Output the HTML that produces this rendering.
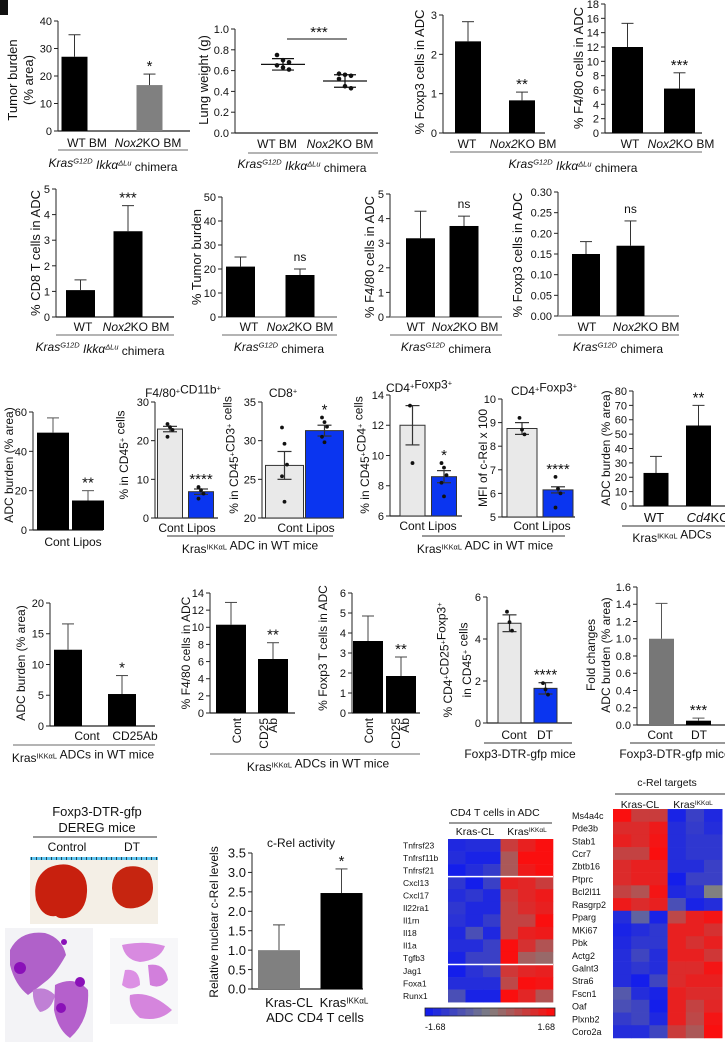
<!DOCTYPE html>
<html><head><meta charset="utf-8">
<style>
html,body{margin:0;padding:0;background:#fff;}
svg{display:block;font-family:"Liberation Sans Narrow","Liberation Sans",sans-serif;}
text{fill:#111;}
</style></head>
<body>
<svg id="fig" width="725" height="1042" viewBox="0 0 725 1042" xmlns="http://www.w3.org/2000/svg"></svg>
<script>
// ---------- DATA ----------
const p1Cats=["WT BM","Nox2KO BM"]; const p1Vals=[27,16.7]; const p1Errs=[8,4]; const p1Ticks=[0,10,20,30,40]; const p1Stars=["","*"];
const p2Cats=["WT BM","Nox2KO BM"]; const p2Means=[0.66,0.50]; const p2Sd=[0.055,0.06]; const p2Ticks=[0,0.2,0.4,0.6,0.8,1.0];
const p2PtsWT=[0.75,0.70,0.68,0.65,0.63,0.61]; const p2PtsKO=[0.57,0.56,0.55,0.52,0.45,0.43];
const p3Vals=[2.33,0.83]; const p3Errs=[0.5,0.21]; const p3Ticks=[0,1,2,3]; const p3Stars=["","**"];
const p4Vals=[12,6.2]; const p4Errs=[3.3,2.2]; const p4Ticks=[0,2,4,6,8,10,12,14,16,18]; const p4Stars=["","***"];
const p5Vals=[1.05,3.35]; const p5Errs=[0.4,1.0]; const p5Ticks=[0,1,2,3,4,5]; const p5Stars=["","***"];
const p6Vals=[21,17.5]; const p6Errs=[4,2.5]; const p6Ticks=[0,10,20,30,40,50]; const p6Stars=["","ns"];
const p7Vals=[3.2,3.7]; const p7Errs=[1.1,0.4]; const p7Ticks=[0,1,2,3,4,5]; const p7Stars=["","ns"];
const p8Vals=[0.15,0.17]; const p8Errs=[0.03,0.06]; const p8Ticks=[0,0.05,0.10,0.15,0.20,0.25,0.30]; const p8Stars=["","ns"];
const p9Vals=[49.5,15]; const p9Errs=[7.5,5]; const p9Ticks=[0,20,40,60]; const p9Stars=["","**"];
const p10Vals=[23,6.8]; const p10Errs=[0.7,0.7]; const p10Ticks=[0,10,20,30]; const p10Stars=["","****"];
const p10Pts=[[24.3,23.5,22.8,21],[8,7.2,6.3,5]];
const p11Vals=[26.8,31.3]; const p11Errs=[1.8,0.7]; const p11Ticks=[20,25,30,35]; const p11Stars=["","*"];
const p11Pts=[[31.7,29.6,26.9,25.4,22.1],[33,32.4,31.8,30.5,29.8]];
const p12Vals=[12,8.6]; const p12Errs=[1.3,0.4]; const p12Ticks=[6,8,10,12,14]; const p12Stars=["","*"];
const p12Pts=[[13.3,9.5],[9.5,9.2,8.7,8.2,7.3]];
const p13Vals=[8.75,6.15]; const p13Errs=[0.25,0.13]; const p13Ticks=[5,6,7,8,9,10]; const p13Stars=["","****"];
const p13Pts=[[9.2,8.7,8.5],[6.7,6.2,6.0,5.4]];
const p14Vals=[23,56]; const p14Errs=[11.5,14]; const p14Ticks=[0,10,20,30,40,50,60,70,80]; const p14Stars=["","**"];
const p15Vals=[12.4,5.2]; const p15Errs=[4.2,3]; const p15Ticks=[0,5,10,15,20]; const p15Stars=["","*"];
const p16Vals=[10.3,6.3]; const p16Errs=[2.6,1.9]; const p16Ticks=[0,2,4,6,8,10,12,14]; const p16Stars=["","**"];
const p17Vals=[3.6,1.85]; const p17Errs=[1.25,0.95]; const p17Ticks=[0,1,2,3,4,5,6]; const p17Stars=["","**"];
const p18Vals=[4.75,1.65]; const p18Errs=[0.4,0.27]; const p18Ticks=[0,2,4,6]; const p18Stars=["","****"];
const p18Pts=[[5.3,4.8,4.4],[1.9,1.6,1.35]];
const p19Vals=[1.0,0.05]; const p19Errs=[0.41,0.03]; const p19Ticks=[0,0.2,0.4,0.6,0.8,1.0,1.2,1.4,1.6]; const p19Stars=["","***"];
const p20Vals=[1.0,2.47]; const p20Errs=[0.65,0.62]; const p20Ticks=[0,0.5,1.0,1.5,2.0,2.5,3.0,3.5]; const p20Stars=["","*"];
const h1Genes=["Tnfrsf23","Tnfrsf11b","Tnfrsf21","Cxcl13","Cxcl17","Il22ra1","Il1rn","Il18","Il1a","Tgfb3","Jag1","Foxa1","Runx1"];
const h1Vals=[
[-0.9,-0.85,-0.85,0.6,0.85,1],[-0.85,-0.95,-0.95,0.35,1,1],[-1,-0.85,-0.7,0.35,0.9,1],
[-0.75,-1,-0.65,0.85,0.8,0.6],[-0.85,-0.75,-0.9,0.6,0.8,0.9],[-0.75,-0.9,-0.9,0.55,0.75,0.85],
[-0.8,-0.9,-0.7,0.55,0.55,1],[-0.9,-0.5,-0.9,0.55,0.85,0.9],[-0.85,-0.85,-0.65,1,0.7,0.4],
[-0.95,-0.65,-0.65,1,0.3,0.2],[-1,-0.8,-0.65,0.65,0.8,0.85],[-0.85,-0.85,-0.85,0.5,1,0.95],[-0.5,-0.95,-0.95,1,0.8,0.4]];
const h2Genes=["Ms4a4c","Pde3b","Stab1","Ccr7","Zbtb16","Ptprc","Bcl2l11","Rasgrp2","Pparg","MKi67","Pbk","Actg2","Galnt3","Stra6","Fscn1","Oaf","Plxnb2","Coro2a"];
const h2Vals=[
[1,0.6,0.6,-0.95,-0.65,-0.9],[0.75,0.75,0.9,-0.85,-0.7,-0.85],[0.85,0.75,0.95,-0.85,-0.75,-0.75],
[0.55,0.55,1,-0.85,-0.75,-0.75],[0.75,0.85,0.85,-0.85,-0.85,-0.65],[0.75,0.85,0.85,-1,-0.65,-0.65],
[0.55,0.4,0.95,-0.9,-0.8,0],[0.9,0.75,0.85,-0.5,-0.95,-0.85],[-0.85,-0.3,-0.95,0.5,0.85,0.95],
[-0.95,-0.85,-0.75,0.85,0.85,0.7],[-0.9,-0.75,-0.75,0.85,0.7,0.85],[-0.85,-0.6,-0.85,0.85,0.85,0.65],
[-0.85,-0.75,-0.85,0.75,0.75,0.95],[-0.85,-1,-0.6,0.75,0.85,0.85],[-0.4,-0.85,-0.95,0.85,0.75,0.75],
[-0.5,-0.6,-1,0.85,0.55,0.8],[-0.7,-0.6,-0.9,0.85,0.5,0.95],[-0.85,-0.85,-0.6,0.6,0.35,1]];

// ---------- HELPERS ----------
const NS="http://www.w3.org/2000/svg";
const svg=document.getElementById('fig');
function el(tag,attrs,name,parent){
  const e=document.createElementNS(NS,tag);
  for(const k in attrs) e.setAttribute(k,attrs[k]);
  
  
  (parent||svg).appendChild(e); return e;
}
function T(x,y,s,size,name,anchor,rot,extra){
  const a={x:x,y:y,'font-size':size,'text-anchor':anchor||'middle'};
  if(rot) a.transform='rotate(-90 '+x+' '+y+')';
  if(extra) for(const k in extra) a[k]=extra[k];
  const t=el('text',a,name); t.innerHTML=s; return t;
}
function L(x1,y1,x2,y2,name,col,w){ return el('line',{x1:x1,y1:y1,x2:x2,y2:y2,stroke:col||'#000','stroke-width':w||1},name); }
const SUP=(s)=>'<tspan font-size="0.62em" dy="-0.45em">'+s+'</tspan><tspan dy="0.45em"></tspan>';
const KRAS='Kras'+SUP('IKKαL');
const CHIM='<tspan font-style="italic">Kras</tspan><tspan font-style="italic" font-size="0.62em" dy="-0.45em">G12D</tspan><tspan dy="0.45em"> </tspan><tspan font-style="italic">Ikkα</tspan><tspan font-style="italic" font-size="0.62em" dy="-0.45em">ΔLu</tspan><tspan dy="0.45em"> chimera</tspan>';
const CHIM2='<tspan font-style="italic">Kras</tspan><tspan font-style="italic" font-size="0.62em" dy="-0.45em">G12D</tspan><tspan dy="0.45em"> chimera</tspan>';
const NOX='<tspan font-style="italic">Nox2</tspan>KO BM';

function chart(c,vals,errs,ticks,stars,pts){
  const sy=v=>c.y0-(v-c.min)/(c.max-c.min)*(c.y0-c.yt);
  const cx=i=>c.b0+i*c.step;
  const fs=c.fs||11;
  L(c.ax,c.y0,c.ax,c.yt,c.id+'-y-axis','#222',1);
  L(c.ax,c.y0,c.end,c.y0,c.id+'-x-axis',c.baseCol||'#222',c.baseW||1.2);
  ticks.forEach((t,i)=>{
    L(c.ax-4,sy(t),c.ax,sy(t),c.id+'-tick','#222',1);
    T(c.ax-6,sy(t)+fs*0.36,t.toFixed(c.dec||0),fs,c.id+'-tick-label','end');
  });
  vals.forEach((v,i)=>{
    const x=cx(i), w=c.w, top=sy(v);
    el('rect',{x:x-w/2,y:top,width:w,height:c.y0-top,fill:c.cols[i],stroke:c.stroke?'#333':'none','stroke-width':1},c.id+'-bar-'+i);
    const e=errs[i];
    const col=c.errCol||'#333';
    if(c.both){
      L(x,sy(v-e),x,sy(v+e),c.id+'-error-bar',col,1.2);
      L(x-7,sy(v+e),x+7,sy(v+e),c.id+'-error-cap',col,1.2);
      L(x-7,sy(v-e),x+7,sy(v-e),c.id+'-error-cap',col,1.2);
    } else {
      L(x,top,x,sy(v+e),c.id+'-error-bar',col,1);
      L(x-6,sy(v+e),x+6,sy(v+e),c.id+'-error-cap',col,1);
    }
    if(pts){ pts[i].forEach((p,j)=>{ el('circle',{cx:x+((j%3)-1)*2.5,cy:sy(p),r:1.9,fill:'#111'},c.id+'-point'); }); }
    if(stars[i]){
      let topv=v+e; if(pts) topv=Math.max(topv,Math.max(...pts[i]));
      const isNs=stars[i]==='ns';
      T(x,sy(topv)-(isNs?8:3),stars[i],isNs?12:15,c.id+'-significance');
    }
  });
}

// ---------- PANEL LABEL ----------
el('rect',{x:0,y:0,width:8,height:15,fill:'#111'},'panel-label-box');

// ---------- ROW 1 ----------
chart({id:'p1',ax:58,y0:131,yt:21,min:0,max:40,end:190,b0:74.5,step:75,w:26,cols:['#000','#808080'],fs:11},p1Vals,p1Errs,p1Ticks,p1Stars);
T(17,80,'Tumor burden',13,'p1-y-title','middle',true);
T(33,80,'(% area)',13,'p1-y-title-2','middle',true);
T(87,147,'WT BM',12,'p1-x-label-wt');
T(148,147,NOX,12,'p1-x-label-ko');
L(58,150,188,150,'p1-group-line','#888',1.2);
T(113,167,CHIM,12,'p1-group-label');

// P2 scatter
(function(){
  const c={ax:235,y0:133,yt:29,min:0,max:1,end:378,b0:283,step:62};
  const sy=v=>c.y0-(v-c.min)/(c.max-c.min)*(c.y0-c.yt);
  L(c.ax,c.y0,c.ax,c.yt,'p2-y-axis','#222',1);
  L(c.ax,c.y0,c.end,c.y0,'p2-x-axis','#222',1.2);
  p2Ticks.forEach(t=>{L(c.ax-4,sy(t),c.ax,sy(t),'p2-tick','#222',1);T(c.ax-6,sy(t)+4,t.toFixed(1),11,'p2-tick-label','end');});
  [p2PtsWT,p2PtsKO].forEach((arr,i)=>{
    const x=c.b0+i*c.step;
    arr.forEach((p,j)=>{el('circle',{cx:x+((j%3)-1)*6,cy:sy(p),r:2.3,fill:'#111'},'p2-point');});
    L(x-22,sy(p2Means[i]),x+22,sy(p2Means[i]),'p2-mean-line','#111',1.3);
    L(x,sy(p2Means[i]-p2Sd[i]),x,sy(p2Means[i]+p2Sd[i]),'p2-sd-line','#111',1.2);
    L(x-11,sy(p2Means[i]+p2Sd[i]),x+11,sy(p2Means[i]+p2Sd[i]),'p2-sd-cap','#111',1.2);
    L(x-11,sy(p2Means[i]-p2Sd[i]),x+11,sy(p2Means[i]-p2Sd[i]),'p2-sd-cap','#111',1.2);
  });
  L(287,39,347,39,'p2-sig-line','#111',1);
  T(319,37,'***',15,'p2-significance');
})();
T(208,80,'Lung weight (g)',13,'p2-y-title','middle',true);
T(277,148,'WT BM',12,'p2-x-label-wt');
T(340,148,NOX,12,'p2-x-label-ko');
L(248,153,378,153,'p2-group-line','#888',1.2);
T(302,168,CHIM,12,'p2-group-label');

chart({id:'p3',ax:443,y0:133,yt:15,min:0,max:3,end:545,b0:468,step:54,w:26,cols:['#000','#000'],fs:11},p3Vals,p3Errs,p3Ticks,p3Stars);
T(424,72,'% Foxp3 cells in ADC',13,'p3-y-title','middle',true);
T(467,148,'WT',12,'p3-x-label-wt');
T(523,148,NOX,12,'p3-x-label-ko');
chart({id:'p4',ax:605,y0:133,yt:4,min:0,max:18,end:702,b0:627.5,step:52,w:31,cols:['#000','#000'],fs:11},p4Vals,p4Errs,p4Ticks,p4Stars);
T(583,68,'% F4/80 cells in ADC',13,'p4-y-title','middle',true);
T(630,148,'WT',12,'p4-x-label-wt');
T(681,148,NOX,12,'p4-x-label-ko');
L(450,152,702,152,'p3-p4-group-line','#888',1.2);
T(573,168,CHIM,12,'p3-p4-group-label');

// ---------- ROW 2 ----------
chart({id:'p5',ax:56,y0:317,yt:189,min:0,max:5,end:174,b0:80.5,step:47.5,w:29,cols:['#000','#000'],fs:11},p5Vals,p5Errs,p5Ticks,p5Stars);
T(40,253,'% CD8 T cells in ADC',13,'p5-y-title','middle',true);
T(83,331,'WT',12,'p5-x-label-wt'); T(136,331,NOX,12,'p5-x-label-ko');
L(56,335,174,335,'p5-group-line','#888',1.2);
T(100,351,CHIM,12,'p5-group-label');

chart({id:'p6',ax:222,y0:317,yt:197,min:0,max:50,end:337,b0:240.5,step:59.5,w:29,cols:['#000','#000'],fs:11,baseCol:'#888',baseW:1.5},p6Vals,p6Errs,p6Ticks,p6Stars);
T(201,257,'% Tumor burden',13,'p6-y-title','middle',true);
T(249,331,'WT',12,'p6-x-label-wt'); T(300,331,NOX,12,'p6-x-label-ko');
L(222,335,337,335,'p6-group-line','#888',1.2);
T(279,351,CHIM2,12,'p6-group-label');

chart({id:'p7',ax:390,y0:317,yt:194,min:0,max:5,end:502,b0:420.5,step:43.5,w:29,cols:['#000','#000'],fs:11,baseCol:'#888',baseW:1.5},p7Vals,p7Errs,p7Ticks,p7Stars);
T(374,257,'% F4/80 cells in ADC',13,'p7-y-title','middle',true);
T(416,331,'WT',12,'p7-x-label-wt'); T(465,331,NOX,12,'p7-x-label-ko');
L(390,335,502,335,'p7-group-line','#888',1.2);
T(446,351,CHIM2,12,'p7-group-label');

chart({id:'p8',ax:558,y0:316,yt:192,min:0,max:0.3,end:679,b0:586,step:44.5,w:28,cols:['#000','#000'],fs:11,dec:2,baseCol:'#888',baseW:1.5},p8Vals,p8Errs,p8Ticks,p8Stars);
T(522,255,'% Foxp3 cells in ADC',13,'p8-y-title','middle',true);
T(587,331,'WT',12,'p8-x-label-wt'); T(646,331,NOX,12,'p8-x-label-ko');
L(558,335,679,335,'p8-group-line','#888',1.2);
T(618,351,CHIM2,12,'p8-group-label');

// ---------- ROW 3 ----------
chart({id:'p9',ax:33,y0:530,yt:412,min:0,max:60,end:103,b0:53,step:35,w:32,cols:['#000','#000'],fs:11,errCol:'#555'},p9Vals,p9Errs,p9Ticks,p9Stars);
T(13,465,'ADC burden (% area)',12,'p9-y-title','middle',true);
T(73,546,'Cont Lipos',12,'p9-x-labels');

chart({id:'p10',ax:155,y0:518,yt:402,min:0,max:30,end:218,b0:170,step:31,w:25,cols:['#e9e9e9','#0a35f0'],stroke:true,both:true,fs:11},p10Vals,p10Errs,p10Ticks,p10Stars,p10Pts);
T(183,397,'F4/80'+SUP('+')+'CD11b'+SUP('+'),12,'p10-title');
T(128,455,'% in CD45'+SUP('+')+' cells',12,'p10-y-title','middle',true);
T(187,532,'Cont Lipos',12,'p10-x-labels');

chart({id:'p11',ax:262,y0:518,yt:402,min:20,max:35,end:342,b0:284.5,step:40,w:38,cols:['#e9e9e9','#0a35f0'],stroke:true,both:true,fs:11},p11Vals,p11Errs,p11Ticks,p11Stars,p11Pts);
T(283,397,'CD8'+SUP('+'),12,'p11-title');
T(238,455,'% in CD45'+SUP('+')+'CD3'+SUP('+')+' cells',12,'p11-y-title','middle',true);
T(306,532,'Cont Lipos',12,'p11-x-labels');
L(167,536,333,536,'p10-p11-group-line','#333',1);
T(250,553,KRAS+' ADC in WT mice',12,'p10-p11-group-label');

chart({id:'p12',ax:390,y0:516,yt:395,min:6,max:14,end:462,b0:412.5,step:31.5,w:25,cols:['#e9e9e9','#0a35f0'],stroke:true,both:true,fs:11},p12Vals,p12Errs,p12Ticks,p12Stars,p12Pts);
T(419,392,'CD4'+SUP('+')+'Foxp3'+SUP('+'),12,'p12-title');
T(369,455,'% in CD45'+SUP('+')+'CD4'+SUP('+')+' cells',12,'p12-y-title','middle',true);
T(428,530,'Cont Lipos',12,'p12-x-labels');

chart({id:'p13',ax:502,y0:517,yt:399,min:5,max:10,end:575,b0:522,step:36,w:30,cols:['#e9e9e9','#0a35f0'],stroke:true,both:true,fs:11},p13Vals,p13Errs,p13Ticks,p13Stars,p13Pts);
T(544,395,'CD4'+SUP('+')+'Foxp3'+SUP('+'),12,'p13-title');
T(487,458,'MFI of c-Rel x 100',12,'p13-y-title','middle',true);
T(542,530,'Cont Lipos',12,'p13-x-labels');
L(422,536,565,536,'p12-p13-group-line','#333',1);
T(485,553,KRAS+' ADC in WT mice',12,'p12-p13-group-label');

chart({id:'p14',ax:633,y0:506,yt:391,min:0,max:80,end:725,b0:656,step:42.5,w:25,cols:['#000','#000'],fs:11},p14Vals,p14Errs,p14Ticks,p14Stars);
T(610,448,'ADC burden (% area)',12,'p14-y-title','middle',true);
T(654,522,'WT',13,'p14-x-label-wt');
T(708,522,'<tspan font-style="italic">Cd4</tspan>KO',13,'p14-x-label-ko');
L(622,526,725,526,'p14-group-line','#333',1);
T(672,542,KRAS+' ADCs',12,'p14-group-label');

// ---------- ROW 4 ----------
chart({id:'p15',ax:50,y0:726,yt:603,min:0,max:20,end:155,b0:68,step:54,w:28,cols:['#000','#000'],fs:11,errCol:'#444'},p15Vals,p15Errs,p15Ticks,p15Stars);
T(25,663,'ADC burden (% area)',12,'p15-y-title','middle',true);
T(87,740,'Cont',12,'p15-x-label-cont'); T(135,740,'CD25Ab',12,'p15-x-label-cd25');
L(13,745,155,745,'p15-group-line','#888',1.2);
T(83,762,KRAS+' ADCs in WT mice',12,'p15-group-label');

chart({id:'p16',ax:210,y0:713,yt:593,min:0,max:14,end:295,b0:231,step:42,w:30,cols:['#000','#000'],fs:11,errCol:'#444'},p16Vals,p16Errs,p16Ticks,p16Stars);
T(190,653,'% F4/80 cells in ADC',12,'p16-y-title','middle',true);
T(241,718,'Cont',12,'p16-x-label-cont','end',true);
T(268,718,'CD25',12,'p16-x-label-cd25','end',true);
T(277,718,'Ab',12,'p16-x-label-ab','end',true);

chart({id:'p17',ax:352,y0:713,yt:593,min:0,max:6,end:420,b0:368,step:33,w:30,cols:['#000','#000'],fs:11,errCol:'#444'},p17Vals,p17Errs,p17Ticks,p17Stars);
T(327,648,'% Foxp3 T cells in ADC',12,'p17-y-title','middle',true);
T(373,718,'Cont',12,'p17-x-label-cont','end',true);
T(400,718,'CD25',12,'p17-x-label-cd25','end',true);
T(409,718,'Ab',12,'p17-x-label-ab','end',true);
L(210,754,420,754,'p16-p17-group-line','#888',1.2);
T(318,771,KRAS+' ADCs in WT mice',12,'p16-p17-group-label');

chart({id:'p18',ax:487,y0:723,yt:597,min:0,max:6,end:572,b0:509.5,step:36,w:23,cols:['#e9e9e9','#0a35f0'],stroke:true,both:true,fs:11},p18Vals,p18Errs,p18Ticks,p18Stars,p18Pts);
T(452,660,'% CD4'+SUP('+')+'CD25'+SUP('+')+'Foxp3'+SUP('+'),12,'p18-y-title','middle',true);
T(471,660,'in CD45'+SUP('+')+' cells',12,'p18-y-title-2','middle',true);
T(514,739,'Cont',12,'p18-x-label-cont'); T(545,739,'DT',12,'p18-x-label-dt');
L(484,743,572,743,'p18-group-line','#333',1);
T(520,758,'Foxp3-DTR-gfp mice',12,'p18-group-label');

chart({id:'p19',ax:637,y0:725,yt:587,min:0,max:1.6,end:725,b0:661.5,step:37,w:25,cols:['#777','#000'],fs:11,dec:1,errCol:'#555'},p19Vals,p19Errs,p19Ticks,p19Stars);
T(595,655,'Fold changes',12,'p19-y-title','middle',true);
T(610,655,'ADC burden (% area)',12,'p19-y-title-2','middle',true);
T(660,739,'Cont',12,'p19-x-label-cont'); T(699,739,'DT',12,'p19-x-label-dt');
L(630,743,725,743,'p19-group-line','#333',1);
T(675,758,'Foxp3-DTR-gfp mice',12,'p19-group-label');

// ---------- ROW 5: images ----------
T(97,816,'Foxp3-DTR-gfp',13,'dereg-title-1');
T(97,832,'DEREG  mice',13,'dereg-title-2');
L(33,837,157,837,'dereg-line','#333',1);
T(67,851,'Control',12,'photo-label-control');
T(132,851,'DT',12,'photo-label-dt');
el('rect',{x:30,y:857,width:128,height:3,fill:'#5cc3ee'},'ruler');
for(let i=0;i<26;i++){ el('rect',{x:31+i*5,y:857,width:1,height:3,fill:'#245'},'ruler-tick'); }
el('rect',{x:30,y:860,width:128,height:64,fill:'#f4efe6'},'photo-background');
el('path',{d:'M36 900 Q32 878 48 868 Q62 862 72 866 Q88 872 87 892 Q86 912 70 917 Q60 920 56 916 Q42 918 36 900 Z',fill:'#c8200e'},'lung-photo-control');
el('path',{d:'M112 888 Q112 872 126 867 Q142 864 150 874 Q156 888 150 900 Q140 910 126 908 Q113 904 112 888 Z',fill:'#c62510'},'lung-photo-dt');
el('rect',{x:5,y:928,width:88,height:114,fill:'#f3f3f6'},'histology-control-bg');
el('path',{d:'M10 950 Q20 930 45 933 Q62 938 66 955 Q55 975 45 982 Q35 990 28 995 Q15 985 10 965 Z',fill:'#b061c9'},'histology-control-lobe');
el('path',{d:'M55 985 Q75 975 88 990 Q90 1020 70 1038 Q58 1030 54 1010 Z',fill:'#b560cc'},'histology-control-lobe-2');
el('path',{d:'M33 990 Q45 985 55 995 Q52 1010 40 1012 Q32 1003 33 990 Z',fill:'#c080d5'},'histology-control-lobe-3');
el('circle',{cx:20,cy:968,r:6,fill:'#8a10b8'},'tumor-nodule');
el('circle',{cx:80,cy:982,r:5,fill:'#8a10b8'},'tumor-nodule');
el('circle',{cx:61,cy:1008,r:5,fill:'#8a10b8'},'tumor-nodule');
el('circle',{cx:64,cy:942,r:3,fill:'#8a10b8'},'tumor-nodule');
el('rect',{x:110,y:938,width:68,height:86,fill:'#f7f7f9'},'histology-dt-bg');
el('path',{d:'M122 945 Q145 940 165 946 Q160 960 140 962 Q125 960 122 945 Z',fill:'#d88ae0'},'histology-dt-lobe');
el('path',{d:'M148 965 Q165 962 168 980 Q160 990 150 985 Z',fill:'#d27fdc'},'histology-dt-lobe-2');
el('path',{d:'M125 970 Q140 968 140 985 Q130 992 122 985 Z',fill:'#dc90e4'},'histology-dt-lobe-3');
el('path',{d:'M130 995 Q150 990 172 1010 Q160 1022 140 1018 Q128 1008 130 995 Z',fill:'#d585dd'},'histology-dt-lobe-4');

chart({id:'p20',ax:252,y0:989,yt:853,min:0,max:3.5,end:363,b0:279,step:62.5,w:42,cols:['#808080','#000'],fs:13,dec:1,errCol:'#444'},p20Vals,p20Errs,p20Ticks,p20Stars);
T(301,847,'c-Rel activity',12,'p20-title');
T(218,922,'Relative nuclear c-Rel levels',12,'p20-y-title','middle',true);
T(289,1007,'Kras-CL',13,'p20-x-label-cl');
T(344,1007,KRAS,13,'p20-x-label-ikk');
T(315,1022,'ADC CD4 T cells',13,'p20-x-group');

// ---------- HEATMAPS ----------
function heat(v){
  const g=[128,128,128], r=[250,15,15], b=[20,30,235];
  const t=Math.min(1,Math.abs(v)); const tgt=v>=0?r:b;
  const c=g.map((x,i)=>Math.round(x+(tgt[i]-x)*t));
  return 'rgb('+c.join(',')+')';
}
(function(){
  const x0=448,y0=839,cw=17.5,rh=12.55;
  T(495,816,'CD4 T cells in ADC',10.5,'h1-title');
  L(449,823,552,823,'h1-header-line','#333',1);
  T(475,835,'Kras-CL',10.5,'h1-col-group-cl');
  T(527,835,KRAS,10.5,'h1-col-group-ikk');
  h1Vals.forEach((row,i)=>{
    T(403,y0+i*rh+rh/2+3,h1Genes[i],8.5,'h1-gene-label','start');
    row.forEach((v,j)=>{ el('rect',{x:x0+j*cw,y:y0+i*rh,width:cw+0.3,height:rh+0.3,fill:heat(v)},'h1-cell'); });
  });
  L(x0,y0+3*rh,x0+6*cw,y0+3*rh,'h1-separator','#fff',1.5);
  L(x0,y0+10*rh,x0+6*cw,y0+10*rh,'h1-separator','#fff',1.5);
  for(let k=0;k<16;k++){ el('rect',{x:425+k*8.1,y:1008,width:8.4,height:8,fill:heat(-1+k*2/15)},'colorbar-cell'); }
  el('rect',{x:425,y:1008,width:130,height:8,fill:'none',stroke:'#222','stroke-width':0.8},'colorbar-border');
  T(425,1030,'-1.68',9,'colorbar-min','start');
  T(555,1030,'1.68',9,'colorbar-max','end');
})();
(function(){
  const x0=613,y0=809,cw=18.2,rh=12.72;
  T(667,786,'c-Rel targets',10.5,'h2-title');
  L(615,794,725,794,'h2-header-line','#333',1);
  T(640,808,'Kras-CL',10.5,'h2-col-group-cl');
  T(693,808,KRAS,10.5,'h2-col-group-ikk');
  h2Vals.forEach((row,i)=>{
    T(572,y0+i*rh+rh/2+3.5,h2Genes[i],9,'h2-gene-label','start');
    row.forEach((v,j)=>{ el('rect',{x:x0+j*cw,y:y0+i*rh,width:cw+0.3,height:rh+0.3,fill:heat(v)},'h2-cell'); });
  });
})();
</script>
</body></html>
